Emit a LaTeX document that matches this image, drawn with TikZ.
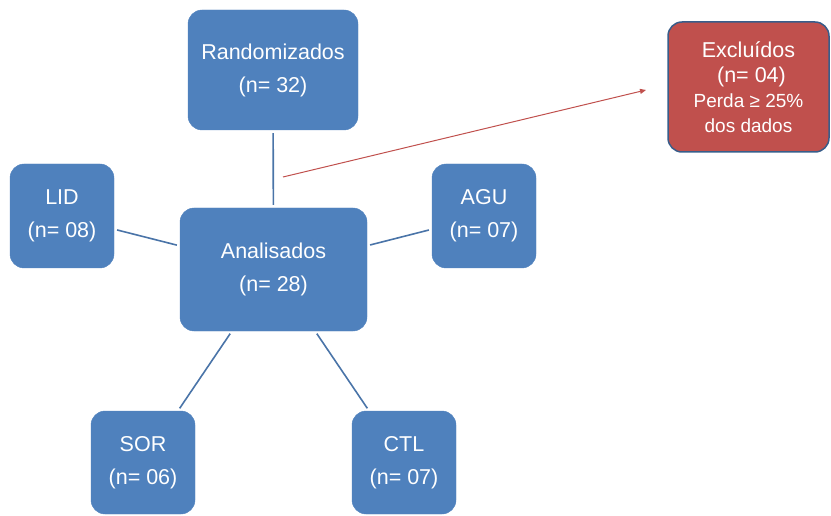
\documentclass[tikz,border=0pt]{standalone}
\usepackage{fontspec}
\setmainfont{Liberation Sans}
\usetikzlibrary{arrows.meta}
\definecolor{boxblue}{HTML}{4F81BD}
\definecolor{edgeblue}{HTML}{385D8A}
\definecolor{boxred}{HTML}{C0504D}
\definecolor{linkblue}{HTML}{4A74A8}
\begin{document}
\begin{tikzpicture}[x=1pt,y=-1pt,
  bluebox/.style={fill=boxblue, draw=boxblue, rounded corners=14pt, text=white,
    font=\fontsize{21.5}{33}\selectfont, align=center, inner sep=0pt},
  redbox/.style={fill=boxred, draw=edgeblue, line width=1.5pt, rounded corners=14pt, text=white,
    font=\fontsize{21.5}{25}\selectfont, align=center, inner sep=0pt, minimum width=161pt, minimum height=130pt},
  link/.style={draw=linkblue, line width=1.6pt, shorten <=3pt, shorten >=3pt},
  exarrow/.style={draw=boxred, line width=1pt, -{Triangle[length=6pt,width=5pt]}}]
\useasboundingbox (0,0) rectangle (831,516);
\node[bluebox, minimum width=170pt, minimum height=120pt] (rand) at (273,70) {Randomizados\\(n= 32)};
\node[bluebox, minimum width=187pt, minimum height=123pt] (anal) at (273.5,269.5) {Analisados\\(n= 28)};
\node[bluebox, minimum width=104pt, minimum height=104pt] (lid) at (62,216) {LID\\(n= 08)};
\node[bluebox, minimum width=104pt, minimum height=104pt] (agu) at (484,216) {AGU\\(n= 07)};
\node[bluebox, minimum width=104pt, minimum height=103pt] (sor) at (143,462.5) {SOR\\(n= 06)};
\node[bluebox, minimum width=104pt, minimum height=103pt] (ctl) at (404,462.5) {CTL\\(n= 07)};
\node[redbox] (excl) at (748.5,87) {Excluídos\\\ (n= 04)\\{\fontsize{19}{25}\selectfont Perda ≥ 25\%}\\{\fontsize{19}{25}\selectfont dos dados}};
\draw[link] (rand) -- (anal);
\draw[link] (lid) -- (anal);
\draw[link] (agu) -- (anal);
\draw[link] (sor) -- (anal);
\draw[link] (ctl) -- (anal);
\coordinate (exstart) at (283,177);
\coordinate (exend) at (646,90);
\draw[exarrow] (exstart) -- (exend);
\end{tikzpicture}
\end{document}
